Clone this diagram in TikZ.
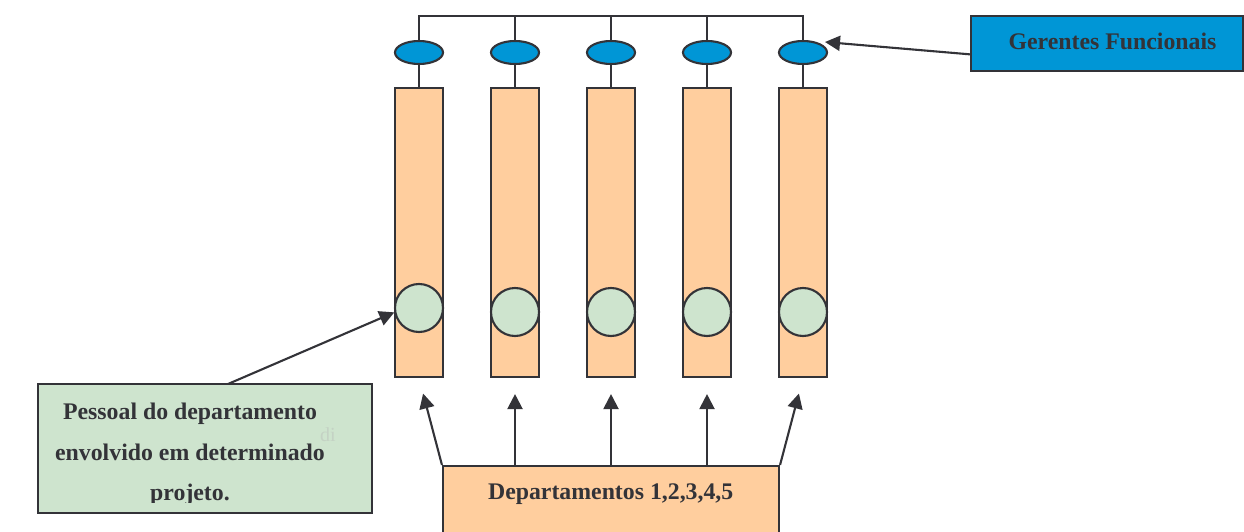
\documentclass[tikz,border=0pt]{standalone}
\usepackage{fontspec}
\setmainfont{Liberation Serif}
\usetikzlibrary{shapes.geometric,arrows.meta,calc}
\definecolor{ink}{RGB}{51,51,56}
\definecolor{mgrblue}{RGB}{0,150,214}
\definecolor{deptorange}{RGB}{255,206,158}
\definecolor{staffgreen}{RGB}{206,228,206}
\definecolor{faint}{RGB}{196,210,196}
\begin{document}
\begin{tikzpicture}[x=1pt,y=-1pt,
  outline/.style={draw=ink,line width=2.1pt},
  wire/.style={draw=ink,line width=2.1pt},
  bar/.style={outline,fill=deptorange,minimum width=48pt,minimum height=289pt,inner sep=0pt},
  mgr/.style={outline,ellipse,fill=mgrblue,minimum width=48pt,minimum height=23pt,inner sep=0pt},
  staff/.style={outline,circle,fill=staffgreen,minimum size=48pt,inner sep=0pt},
  lbl/.style={font=\fontsize{23.8}{40}\selectfont\bfseries,text=ink,inner sep=0pt,anchor=base},
  arr/.style={draw=ink,line width=2.1pt,-{Triangle[length=15pt,width=15pt]}}]
\useasboundingbox (0,0) rectangle (1244,532);

% department columns with their managers and staff
\foreach \i/\x/\cy in {1/419/308,2/515/312,3/611/312,4/707/312,5/803/312} {
  \node[bar] (r\i) at (\x,232.5) {};
  \node[mgr] (e\i) at (\x,52.5) {};
  \node[staff] (c\i) at (\x,\cy) {};
  \coordinate (t\i) at (\x,16);
  \draw[wire] (e\i.south) -- (r\i.north);
}
% top bus joining the managers
\draw[wire] (e1.north) -- (t1) -- (t5) -- (e5.north);
\foreach \i in {2,3,4} { \draw[wire] (t\i) -- (e\i.north); }

% functional managers label
\node[outline,fill=mgrblue,minimum width=272pt,minimum height=55pt,inner sep=0pt] (gf) at (1107,43.5) {};
\node[lbl] (gft) at (1112.5,50) {Gerentes Funcionais};
\coordinate (gfa) at ($(gf.south west)!0.31!(gf.north west)$);
\coordinate (gftip) at ([shift={(22,-10.5)}]e5.center);
\draw[arr] (gfa) -- (gftip);

% staff label
\node[fill=staffgreen,minimum width=334pt,minimum height=129pt,inner sep=0pt] (pb) at (205,448.5) {};
\node[font=\fontsize{20}{20}\selectfont,text=faint,anchor=base] (ghost) at (328,441) {di};
\begin{scope}
  \clip (pb.north west) rectangle (372,502);
  \node[lbl] (p1) at (190,419) {Pessoal do departamento};
  \node[lbl] (p2) at (190,460) {envolvido em determinado};
  \node[lbl] (p3) at (190,500) {projeto.};
\end{scope}
\draw[outline] (pb.south west) rectangle (pb.north east);
\coordinate (pba) at (228,384);
\draw[arr] (pba) -- (c1.190);

% departments label
\node[outline,fill=deptorange,minimum width=336pt,minimum height=90pt,inner sep=0pt] (dep) at (611,511) {};
\node[lbl] (dept) at (610.7,499) {Departamentos 1,2,3,4,5};
\draw[arr,shorten >=16pt] (dep.north west) -- (r1.south);
\draw[arr,shorten >=16pt] (r2.south |- dep.north) -- (r2.south);
\draw[arr,shorten >=16pt] (r3.south |- dep.north) -- (r3.south);
\draw[arr,shorten >=16pt] (r4.south |- dep.north) -- (r4.south);
\draw[arr,shorten >=16pt] (dep.north east) -- (r5.south);
\end{tikzpicture}
\end{document}
